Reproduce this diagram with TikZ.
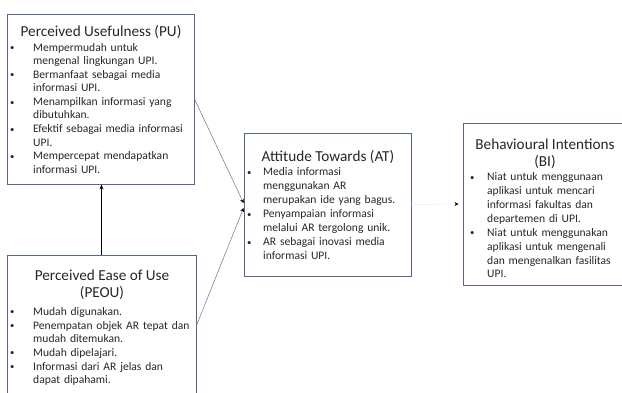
\documentclass[tikz,border=0pt]{standalone}
\usepackage{fontspec}
\usepackage{graphicx}
\setmainfont{Carlito}
\usetikzlibrary{arrows.meta,calc}
\definecolor{boxline}{RGB}{84,104,140}
\definecolor{txt}{RGB}{38,38,38}
\newcommand{\smbullet}{\raisebox{0.6bp}{\scalebox{0.75}{\textbullet}}}
\newenvironment{blist}[1]{\begin{list}{\smbullet}{%
  \setlength\leftmargin{#1}\setlength\labelwidth{0pt}\setlength\labelsep{#1}%
  \setlength\itemsep{0.6bp}\setlength\parsep{0pt}\setlength\topsep{0pt}%
  \setlength\partopsep{0pt}\setlength\itemindent{0pt}%
  \renewcommand\makelabel[1]{\hbox to 0pt{\hss##1\hss}}}\raggedright}{\end{list}}
\begin{document}
\begin{tikzpicture}[x=1bp,y=-1bp,
  box/.style={draw=boxline,line width=0.9bp,inner sep=0pt},
  ttl/.style={font=\fontsize{15.3}{17.5}\selectfont,text=txt,align=center,inner sep=0pt},
  lst/.style={font=\fontsize{11.6}{13.3}\selectfont,text=txt,align=left,inner sep=0pt,anchor=north west,text width=210bp},
  lstw/.style={lst,font=\fontsize{11.6}{13.8}\selectfont},
  conn/.style={draw=black!55,line width=0.5bp,-{Stealth[length=4bp,width=4bp,black]}},
  vert/.style={draw=black,line width=1bp,-{Stealth[length=5bp,width=4bp]}},
  faint/.style={draw=black!6,line width=0.5bp,-{Stealth[length=4bp,width=4bp,black]},shorten >=4bp}]
\useasboundingbox (0,0) rectangle (622,392);
% boxes
\node[box,minimum width=187bp,minimum height=170bp] (pu) at (100.5,99) {};
\node[box,minimum width=189bp,minimum height=141bp] (peou) at (101.5,325.5) {};
\node[box,minimum width=167bp,minimum height=143bp] (at) at (327.5,204.5) {};
\node[box,minimum width=162bp,minimum height=162bp] (bi) at (544,204) {};
% titles
\node[ttl] (puT) at (101,32) {Perceived Usefulness (PU)};
\node[ttl] (peouT) at (102,285) {Perceived Ease of Use\\(PEOU)};
\node[ttl] (atT) at (328,157) {Attitude Towards (AT)};
\node[ttl] (biT) at (545,154) {Behavioural Intentions\\(BI)};
% lists
\node[lst] (puL) at (12,38) {\begin{blist}{21bp}
\item Mempermudah untuk\\mengenal lingkungan UPI.
\item Bermanfaat sebagai media\\informasi UPI.
\item Menampilkan informasi yang\\dibutuhkan.
\item Efektif sebagai media informasi\\UPI.
\item Mempercepat mendapatkan\\informasi UPI.
\end{blist}};
\node[lst] (peouL) at (12,302) {\begin{blist}{21bp}
\item Mudah digunakan.
\item Penempatan objek AR tepat dan\\mudah ditemukan.
\item Mudah dipelajari.
\item Informasi dari AR jelas dan\\dapat dipahami.
\end{blist}};
\node[lstw] (atL) at (249,162) {\begin{blist}{14bp}
\item Media informasi\\menggunakan AR\\merupakan ide yang bagus.
\item Penyampaian informasi\\melalui AR tergolong unik.
\item AR sebagai inovasi media\\informasi UPI.
\end{blist}};
\node[lstw] (biL) at (472,167) {\begin{blist}{15bp}
\item Niat untuk menggunaan\\aplikasi untuk mencari\\informasi fakultas dan\\departemen di UPI.
\item Niat untuk menggunakan\\aplikasi untuk mengenali\\dan mengenalkan fasilitas\\UPI.
\end{blist}};
% connectors
\draw[conn] (pu.east) -- ($(at.west)+(0,-1.5)$);
\draw[conn] (peou.east) -- ($(at.west)+(0,3.5)$);
\draw[vert] (peou.north) -- (peou.north |- pu.south);
\draw[faint] (at.east) -- (bi.west);
\end{tikzpicture}
\end{document}
